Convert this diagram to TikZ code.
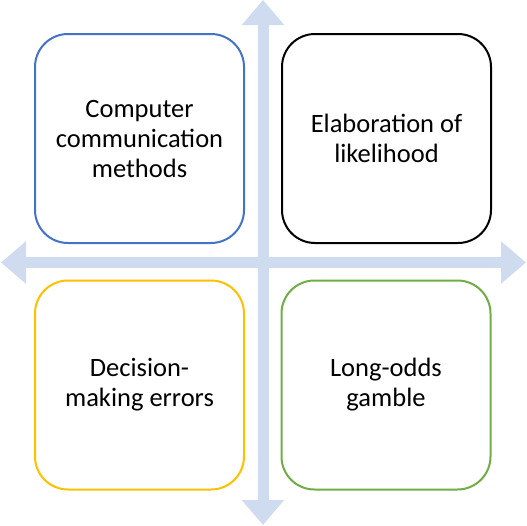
\documentclass[tikz,border=0pt]{standalone}
\usepackage{fontspec}
\setmainfont{Carlito}
\usetikzlibrary{arrows.meta}
\definecolor{axisblue}{RGB}{207,219,239}
\definecolor{boxblue}{RGB}{68,114,196}
\definecolor{boxyellow}{RGB}{255,192,0}
\definecolor{boxgreen}{RGB}{112,173,71}
\begin{document}
\begin{tikzpicture}
		[	x=1pt,y=-1pt,
		box/.style={rectangle,rounded corners=33pt,line width=2pt,fill=white,minimum width=209pt,minimum height=209pt,align=center,font=\fontsize{26.5}{30}\selectfont},
		axis/.style={draw=axisblue,line width=11pt,{Triangle[length=25pt,width=41pt]}-{Triangle[length=25pt,width=41pt]}}
		]
		\useasboundingbox (0,0) rectangle (527,525);

		\coordinate (top) at (263,0);
		\coordinate (bottom) at (263,525);
		\coordinate (left) at (1,262.5);
		\coordinate (right) at (526,262.5);

		\draw[axis] (bottom) -- (top);
		\draw[axis] (left) -- (right);

		\node[box,draw=boxblue] (comp) at (139.5,138.5){Computer\\communication\\methods};
		\node[box,draw=black] (elab) at (386.5,138.5){Elaboration of\\likelihood};
		\node[box,draw=boxyellow] (dec) at (139.5,385){Decision-\\making errors};
		\node[box,draw=boxgreen] (long) at (386,385){Long-odds\\gamble};
	\end{tikzpicture}
\end{document}
